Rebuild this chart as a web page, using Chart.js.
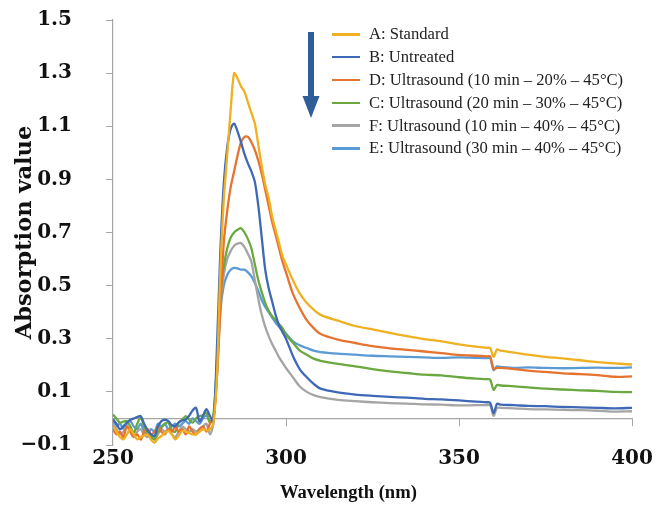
<!DOCTYPE html>
<html>
<head>
<meta charset="utf-8">
<script src="https://cdn.jsdelivr.net/npm/chart.js@4.4.0/dist/chart.umd.min.js"></script>
<style>
  body { margin: 0; background: #fff; }
  #wrap { position: relative; width: 663px; height: 507px; }
  #legend { position: absolute; left: 332px; top: 23px; font-family: "Liberation Serif", "Times New Roman", serif; font-size: 16.6px; color: #222; }
  #legend .row { display: flex; align-items: center; height: 22.8px; white-space: nowrap; }
  #legend .swatch { width: 28px; height: 2.5px; margin-right: 9px; }
  #arrow { position: absolute; left: 302px; top: 30px; }
  #xTitle { position: absolute; left: 280px; top: 481px; font-family: "Liberation Serif", "Times New Roman", serif; font-weight: bold; font-size: 18.6px; color: #111; white-space: nowrap; }
</style>
</head>
<body>
<div id="wrap">
  <canvas id="spectraChart"></canvas>
  <svg id="arrow" width="18" height="92">
    <rect x="6" y="2" width="6" height="68" fill="#2f5d98"/>
    <polygon points="0.5,66 17.5,66 9,88" fill="#2f5d98"/>
  </svg>
  <div id="legend"></div>
  <div id="xTitle">Wavelength (nm)</div>
</div>
<script>
// wavelength (nm)
const wavelength = [
  250, 251, 252, 253, 254, 255, 256, 257, 258, 259,
  260, 261, 262, 263, 264, 265, 266, 267, 268, 269,
  270, 271, 272, 273, 274, 275, 276, 277, 278, 279,
  280, 281, 282, 283, 284, 285, 286, 287, 288, 289,
  290, 291, 292, 293, 294, 295, 296, 297, 298, 299,
  300, 302, 304, 306, 308, 310, 315, 320, 325, 330,
  335, 340, 345, 350, 355, 358, 359, 360, 361, 362,
  366, 370, 375, 380, 385, 390, 395, 400
];

// absorption values
const standardA = [
  -0.029, -0.05, -0.07, -0.079, -0.06, -0.041, -0.06, -0.079, -0.07, -0.065,
  -0.06, -0.08, -0.091, -0.075, -0.066, -0.055, -0.047, -0.06, -0.079, -0.065,
  -0.047, -0.05, -0.055, -0.06, -0.06, -0.05, -0.041, -0.045, -0.041, -0.02,
  0.15, 0.55, 0.82, 0.99, 1.16, 1.30, 1.28, 1.25, 1.23, 1.19,
  1.15, 1.11, 1.03, 0.95, 0.88, 0.83, 0.76, 0.71, 0.66, 0.61,
  0.58, 0.52, 0.47, 0.435, 0.41, 0.39, 0.368, 0.348, 0.335, 0.322,
  0.31, 0.299, 0.29, 0.279, 0.27, 0.266, 0.265, 0.232, 0.26, 0.255,
  0.248, 0.24, 0.232, 0.226, 0.219, 0.212, 0.207, 0.203
];
const untreatedB = [
  -0.004, -0.02, -0.041, -0.03, -0.016, -0.005, 0.0, 0.005, 0.009, -0.02,
  -0.045, -0.06, -0.066, -0.03, -0.01, -0.005, -0.01, -0.025, -0.029, -0.015,
  -0.008, -0.004, 0.01, 0.03, 0.04, -0.011, 0.01, 0.035, 0.01, -0.011,
  0.25, 0.62, 0.88, 1.02, 1.09, 1.11, 1.08, 1.04, 0.995, 0.96,
  0.93, 0.89, 0.80, 0.68, 0.56, 0.49, 0.44, 0.39, 0.35, 0.325,
  0.30, 0.235, 0.185, 0.155, 0.13, 0.112, 0.098, 0.09, 0.085, 0.081,
  0.078, 0.074, 0.072, 0.068, 0.063, 0.061, 0.059, 0.02, 0.055, 0.052,
  0.05, 0.047, 0.046, 0.043, 0.042, 0.04, 0.038, 0.04
];
const ultrasoundD = [
  -0.04, -0.06, -0.05, -0.07, -0.03, -0.05, -0.07, -0.06, -0.08, -0.05,
  -0.04, -0.06, -0.05, -0.03, -0.05, -0.06, -0.04, -0.05, -0.03, -0.05,
  -0.04, -0.06, -0.03, -0.05, -0.06, -0.04, -0.03, -0.05, -0.02, 0.0,
  0.15, 0.40, 0.66, 0.78, 0.87, 0.93, 0.99, 1.04, 1.06, 1.06,
  1.04, 1.01, 0.97, 0.92, 0.86, 0.80, 0.74, 0.69, 0.64, 0.59,
  0.55, 0.47, 0.415, 0.37, 0.34, 0.318, 0.297, 0.284, 0.272, 0.264,
  0.258, 0.252, 0.246, 0.239, 0.236, 0.234, 0.233, 0.186, 0.19, 0.19,
  0.186, 0.18, 0.175, 0.17, 0.167, 0.163, 0.157, 0.158
];
const ultrasoundC = [
  0.015, 0.0, -0.016, -0.012, -0.01, -0.03, -0.054, -0.02, 0.003, -0.03,
  -0.054, -0.07, -0.079, -0.05, -0.035, -0.02, -0.016, -0.045, -0.05, -0.015,
  -0.005, 0.009, -0.005, -0.016, 0.0, 0.009, 0.012, 0.021, -0.016, 0.01,
  0.2, 0.47, 0.57, 0.64, 0.68, 0.70, 0.71, 0.716, 0.70, 0.675,
  0.64, 0.58, 0.52, 0.475, 0.435, 0.405, 0.385, 0.37, 0.355, 0.34,
  0.315, 0.285, 0.255, 0.24, 0.225, 0.217, 0.205, 0.196, 0.186, 0.177,
  0.171, 0.165, 0.162, 0.155, 0.15, 0.148, 0.146, 0.108, 0.126, 0.124,
  0.121, 0.117, 0.112, 0.109, 0.106, 0.104, 0.1, 0.099
];
const ultrasoundF = [
  -0.02, -0.04, -0.06, -0.05, -0.03, -0.05, -0.07, -0.05, -0.04, -0.06,
  -0.07, -0.06, -0.08, -0.06, -0.04, -0.05, -0.04, -0.06, -0.07, -0.05,
  -0.03, -0.04, -0.05, -0.04, -0.05, -0.04, -0.03, -0.02, -0.06, -0.02,
  0.18, 0.42, 0.54, 0.60, 0.63, 0.65, 0.658, 0.66, 0.645, 0.62,
  0.59, 0.52, 0.45, 0.39, 0.345, 0.31, 0.28, 0.255, 0.23, 0.21,
  0.19, 0.155, 0.12, 0.1, 0.088, 0.08, 0.07, 0.065, 0.061, 0.058,
  0.056, 0.053, 0.052, 0.049, 0.05, 0.05, 0.05, 0.01, 0.04, 0.04,
  0.038, 0.035, 0.034, 0.032, 0.031, 0.029, 0.026, 0.027
];
const ultrasoundE = [
  0.0, -0.03, -0.02, -0.04, -0.02, -0.01, -0.03, -0.04, -0.02, -0.05,
  -0.06, -0.04, -0.05, -0.02, -0.03, -0.02, -0.04, -0.03, -0.02, -0.03,
  -0.02, -0.01, -0.02, 0.0, -0.01, -0.02, 0.0, 0.01, -0.01, 0.0,
  0.15, 0.40, 0.50, 0.54, 0.56, 0.567, 0.565, 0.56, 0.56, 0.55,
  0.535, 0.51, 0.48, 0.445, 0.42, 0.40, 0.38, 0.36, 0.345, 0.33,
  0.32, 0.29, 0.275, 0.265, 0.255, 0.25, 0.244, 0.24, 0.236, 0.234,
  0.232, 0.23, 0.228, 0.23, 0.228, 0.227, 0.228, 0.182, 0.196, 0.194,
  0.19, 0.192, 0.19, 0.189, 0.19, 0.191, 0.19, 0.192
];

const seriesLabels = [
  'A: Standard',
  'B: Untreated',
  'D: Ultrasound (10 min \u2013 20% \u2013 45\u00b0C)',
  'C: Ultrasound (20 min \u2013 30% \u2013 45\u00b0C)',
  'F: Ultrasound (10 min \u2013 40% \u2013 45\u00b0C)',
  'E: Ultrasound (30 min \u2013 40% \u2013 45\u00b0C)'
];
const seriesValues = [standardA, untreatedB, ultrasoundD, ultrasoundC, ultrasoundF, ultrasoundE];
const seriesColors = ['#efb021', '#3f69b6', '#e6732f', '#6ba83f', '#a5a5a5', '#5b9bd5'];

const xTicks = [250, 300, 350, 400];
const yTicks = [-0.1, 0.1, 0.3, 0.5, 0.7, 0.9, 1.1, 1.3, 1.5];

const tickFont = { family: '"DejaVu Serif", serif', size: 20, weight: 'bold' };
const yTitleFont = { family: '"DejaVu Serif", serif', size: 22.5, weight: 'bold' };
const axisGray = '#a6a6a6';

// legend drawn by hand so it can sit inside the plot like the original
const legendEl = document.getElementById('legend');
seriesLabels.forEach((label, i) => {
    const row = document.createElement('div');
    row.className = 'row';
    const sw = document.createElement('span');
    sw.className = 'swatch';
    sw.style.background = seriesColors[i];
    const txt = document.createElement('span');
    txt.textContent = label;
    row.appendChild(sw);
    row.appendChild(txt);
    legendEl.appendChild(row);
});

const datasets = seriesLabels.map((label, i) => ({
    label: label,
    data: wavelength.map((w, j) => ({ x: w, y: seriesValues[i][j] })),
    borderColor: seriesColors[i],
    backgroundColor: seriesColors[i],
    borderWidth: 2.3,
    pointRadius: 0,
    tension: 0.3,
    fill: false,
    xAxisID: 'x',
    yAxisID: 'y'
}));

const ctx = document.getElementById('spectraChart').getContext('2d');
new Chart(ctx, {
    type: 'line',
    data: { datasets: datasets },
    options: {
        responsive: true,
        maintainAspectRatio: false,
        animation: false,
        layout: { padding: { top: 20, right: 31, left: 0, bottom: 0 } },
        plugins: {
            legend: { display: false },
            tooltip: { enabled: false }
        },
        scales: {
            x: {
                type: 'linear',
                position: 'bottom',
                min: xTicks[0],
                max: xTicks[xTicks.length - 1],
                afterBuildTicks: s => { s.ticks = xTicks.map(v => ({ value: v })); },
                ticks: { color: '#111', font: tickFont, padding: -6, maxRotation: 0 },
                grid: { display: false },
                border: { display: false },
                afterFit: s => { s.height = 62; }
            },
            // the visible horizontal axis sits on y = 0
            xZero: {
                type: 'linear',
                axis: 'x',
                position: { y: 0 },
                min: xTicks[0],
                max: xTicks[xTicks.length - 1],
                afterBuildTicks: s => { s.ticks = xTicks.map(v => ({ value: v })); },
                ticks: { display: false },
                grid: { drawOnChartArea: false, tickLength: 7, color: axisGray },
                border: { color: axisGray, width: 1.2 }
            },
            y: {
                min: yTicks[0],
                max: yTicks[yTicks.length - 1],
                afterBuildTicks: s => { s.ticks = yTicks.map(v => ({ value: v })); },
                ticks: {
                    color: '#111',
                    font: tickFont,
                    padding: 34,
                    callback: v => (v < 0 ? '\u2212' : '') + Math.abs(v).toFixed(1)
                },
                grid: { drawOnChartArea: false, tickLength: 7, color: axisGray },
                border: { color: axisGray, width: 1.2 },
                title: { display: true, text: 'Absorption value', color: '#111', font: yTitleFont, padding: { top: 12, bottom: 0 } },
                // the wide label gap should not push the plot down
                afterFit: s => { s.width = 113; s.paddingTop = 12; s.paddingBottom = 12; }
            }
        }
    }
});
</script>
</body>
</html>
